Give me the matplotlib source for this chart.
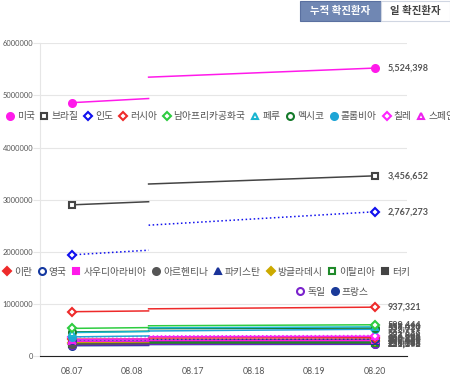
import matplotlib
matplotlib.use("Agg")
import matplotlib.pyplot as plt
from matplotlib.lines import Line2D
from matplotlib.patches import Rectangle

plt.rcParams['font.family'] = ['Lato', 'Noto Sans CJK KR', 'DejaVu Sans']

# x categories (broken time axis)
dates = ['08.07', '08.08', '08.17', '08.18', '08.19', '08.20']
break_pos = 1.27  # where the line jumps, in category units

# country, value at 08.07, before jump, after jump, value at 08.20
names = ['미국', '브라질', '인도', '러시아', '남아프리카공화국', '페루', '멕시코', '콜롬비아', '칠레', '스페인',
         '이란', '영국', '사우디아라비아', '아르헨티나', '파키스탄', '방글라데시', '이탈리아', '터키',
         '독일', '프랑스']
start = [4860000, 2900000, 1940000, 850000, 530000, 450000, 462000, 367000, 367000, 314000,
         322000, 309000, 284000, 228000, 282000, 255000, 250000, 238000, 215000, 198000]
before = [4940000, 2960000, 2030000, 865000, 545000, 470000, 475000, 385000, 372000, 325000,
          326000, 311000, 287000, 241000, 283000, 260000, 251000, 240000, 217000, 202000]
after = [5350000, 3300000, 2510000, 905000, 580000, 540000, 525000, 480000, 385000, 370000,
         345000, 320000, 300000, 305000, 289000, 283000, 255000, 250000, 228000, 220000]
end = [5524398, 3456652, 2767273, 937321, 599444, 558420, 537031, 513719, 391849, 377906,
       350279, 322280, 302686, 320884, 290445, 287959, 256118, 253108, 231292, 225043]

# style: colour, marker, filled, linestyle
styles = [
    ('#ff1aea', 'o', True, '-'),
    ('#444444', 's', False, '-'),
    ('#1010ee', 'D', False, ':'),
    ('#ee2a2a', 'D', False, '-'),
    ('#2ecc40', 'D', False, '-'),
    ('#19b5d0', '^', False, '-'),
    ('#147a2a', 'o', False, '-'),
    ('#1ea5d6', 'o', True, '-'),
    ('#ff22ff', 'D', False, ':'),
    ('#ee22ee', '^', False, '-'),
    ('#ee2a2a', 'D', True, '-'),
    ('#1438a0', 'o', False, ':'),
    ('#ff1aea', 's', True, '-'),
    ('#555555', 'o', True, '-'),
    ('#1a3399', '^', True, '-'),
    ('#ccaa00', 'D', True, '-'),
    ('#1f8a2a', 's', False, '-'),
    ('#444444', 's', True, '-'),
    ('#7a22cc', 'o', False, '-'),
    ('#1a3a99', 'o', True, '-'),
]

fig = plt.figure(figsize=(4.5, 3.81), dpi=100)
ax = fig.add_axes([0.0889, 0.0656, 0.8156, 0.8208])

for i in reversed(range(len(names))):
    c, m, filled, ls = styles[i]
    ax.plot([0, break_pos], [start[i], before[i]], color=c, lw=1.1, ls=ls, zorder=2)
    ax.plot([break_pos, 5], [after[i], end[i]], color=c, lw=1.1, ls=ls, zorder=2)
    ax.plot([0, 5], [start[i], end[i]], ls='none', marker=m, ms=5 if m != 'D' else 4.5,
            mfc=c if filled else 'white', mec=c, mew=1.5, zorder=3)
    ax.annotate(f'{end[i]:,}', (5, end[i]), xytext=(9, 0), textcoords='offset points',
                va='center', ha='left', fontsize=6.5, color='#555555', fontweight='bold')

ax.set_xlim(-0.52, 5.53)
ax.set_ylim(0, 6000000)
ax.set_xticks(range(len(dates)))
ax.set_xticklabels(dates)
ax.set_yticks(range(0, 6000001, 1000000))
ax.set_yticklabels([str(v) for v in range(0, 6000001, 1000000)])
ax.grid(axis='y', color='#e6e6e6', lw=0.8)
ax.set_axisbelow(True)
for s in ['top', 'right']:
    ax.spines[s].set_visible(False)
ax.spines['left'].set_color('#e6e6e6')
ax.spines['bottom'].set_color('#222222')
ax.tick_params(axis='y', length=5, color='#e6e6e6', labelsize=5.4, labelcolor='#555555', pad=0)
ax.tick_params(axis='x', length=0, labelsize=6.3, labelcolor='#555555', pad=8)

# legends in three rows
def handle(i):
    c, m, filled, ls = styles[i]
    return Line2D([], [], ls='none', marker=m, ms=5 if m != 'D' else 4.5,
                  mfc=c if filled else 'white', mec=c, mew=1.5)

rows = [(range(0, 10), 0.013, 0.693), (range(10, 18), 0.007, 0.286), (range(18, 20), 0.659, 0.233)]
for idx, x0, y0 in rows:
    idx = list(idx)
    fig.legend([handle(i) for i in idx], [names[i] for i in idx], ncol=len(idx),
               loc='center left', bbox_to_anchor=(x0, y0), frameon=False, fontsize=7,
               handlelength=0.8, handletextpad=0.3, columnspacing=0.62, borderpad=0,
               borderaxespad=0, labelcolor='#555555')

# toggle buttons at the top
fig.patches.append(Rectangle((300 / 450, 1 - 21 / 381), 81 / 450, 20 / 381,
                             transform=fig.transFigure, facecolor='#7087b3', edgecolor='#5a70a0', lw=0.8))
fig.patches.append(Rectangle((381 / 450, 1 - 21 / 381), 69 / 450, 20 / 381,
                             transform=fig.transFigure, facecolor='white', edgecolor='#d0d6e2', lw=0.8))
fig.text(340.5 / 450, 1 - 11 / 381, '누적 확진환자', ha='center', va='center', fontsize=7.5,
         color='white', fontweight='bold')
fig.text(415.5 / 450, 1 - 11 / 381, '일 확진환자', ha='center', va='center', fontsize=7.5,
         color='#444444', fontweight='bold')

fig.savefig('out.png', dpi=100)
